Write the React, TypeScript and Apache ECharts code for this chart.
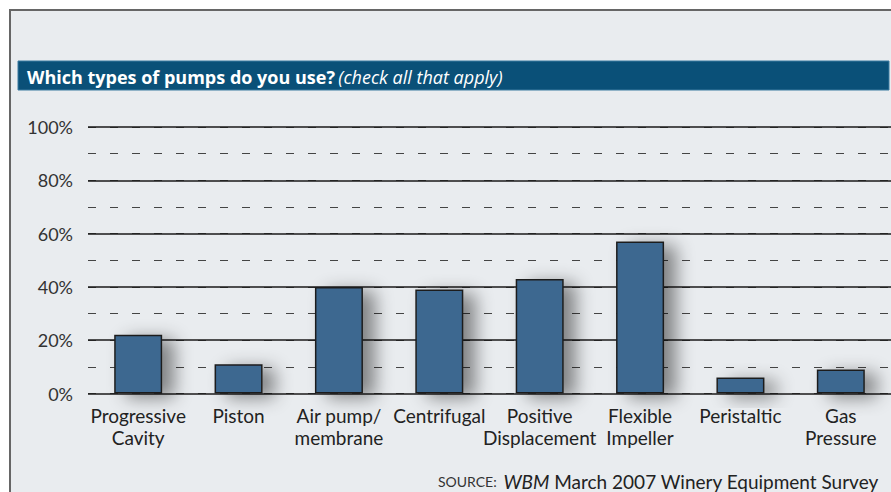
import React, { useEffect, useRef } from "react";
import * as echarts from "echarts";

const categories = [
  "Progressive\nCavity",
  "Piston",
  "Air pump/\nmembrane",
  "Centrifugal",
  "Positive\nDisplacement",
  "Flexible\nImpeller",
  "Peristaltic",
  "Gas\nPressure",
];
const values = [22, 11, 40, 39, 43, 57, 6, 9];
const titleMain = "Which types of pumps do you use?";
const titleNote = "(check all that apply)";
const sourceLabel = "SOURCE:";
const sourcePub = "WBM";
const sourceRest = " March 2007 Winery Equipment Survey";

const FONT = "Lato, 'Open Sans', sans-serif";
const TITLE_FONT = "'Open Sans', Lato, sans-serif";

export default function App() {
  const ref = useRef<HTMLDivElement>(null);
  useEffect(() => {
    const chart = echarts.init(ref.current!, null, { renderer: "svg" });
    chart.setOption({
      animation: false,
      backgroundColor: "#ffffff",
      textStyle: { fontFamily: FONT },
      graphic: [
        {
          type: "rect",
          z: -10,
          shape: { x: 10, y: 10, width: 900, height: 500 },
          style: { fill: "#e9ecef", stroke: "#666666", lineWidth: 2 },
        },
        {
          type: "rect",
          z: -5,
          shape: { x: 18, y: 61, width: 871, height: 29 },
          style: { fill: "#0a5078", stroke: "#3a7aa0", lineWidth: 1 },
        },
        {
          type: "text",
          z: 5,
          x: 27,
          y: 77,
          style: {
            text: "{b|" + titleMain + "} {i|" + titleNote + "}",
            verticalAlign: "middle",
            rich: {
              b: { fontFamily: TITLE_FONT, fontWeight: "bold", fontSize: 18, fill: "#ffffff" },
              i: { fontFamily: TITLE_FONT, fontStyle: "italic", fontSize: 18, fill: "#ffffff" },
            },
          },
        },
        {
          type: "text",
          z: 5,
          x: 438,
          y: 481,
          style: {
            text: "{s|" + sourceLabel + "}  {i|" + sourcePub + "}{n|" + sourceRest + "}",
            verticalAlign: "middle",
            rich: {
              s: { fontFamily: FONT, fontSize: 14, fill: "#333333" },
              i: { fontFamily: FONT, fontStyle: "italic", fontSize: 19, fill: "#222222" },
              n: { fontFamily: FONT, fontSize: 19, fill: "#222222" },
            },
          },
        },
      ],
      grid: { left: 88, right: 0, top: 127, bottom: 98.5, containLabel: false },
      xAxis: {
        type: "category",
        data: categories,
        axisTick: { show: false },
        axisLine: {
          lineStyle: {
            color: "#111111",
            width: 5,
            shadowBlur: 14,
            shadowColor: "rgba(0,0,0,0.25)",
            shadowOffsetY: 10,
          },
        },
        axisLabel: {
          interval: 0,
          margin: 11,
          fontFamily: FONT,
          fontSize: 19,
          lineHeight: 22,
          color: "#222222",
        },
        z: 4,
      },
      yAxis: [
        {
          type: "value",
          min: 0,
          max: 100,
          interval: 20,
          z: 2,
          axisLine: { show: false },
          axisTick: { show: false },
          axisLabel: {
            formatter: "{value}%",
            margin: 15,
            fontFamily: FONT,
            fontSize: 18,
            color: "#333333",
          },
          splitLine: { lineStyle: { color: "#1a1a1a", width: 1.5 } },
        },
        {
          type: "value",
          min: 0,
          max: 100,
          interval: 10,
          z: 1,
          position: "left",
          axisLine: { show: false },
          axisTick: { show: false },
          axisLabel: { show: false },
          splitLine: {
            lineStyle: { color: "#444444", width: 1, type: [8, 14] },
          },
        },
      ],
      series: [
        {
          type: "bar",
          data: values,
          yAxisIndex: 0,
          barWidth: 48,
          z: 3,
          itemStyle: {
            color: "#3c6790",
            borderColor: "#1e1e1e",
            borderWidth: 1.5,
            shadowBlur: 18,
            shadowColor: "rgba(0,0,0,0.45)",
            shadowOffsetX: 12,
            shadowOffsetY: 4,
          },
        },
      ],
    });
    return () => chart.dispose();
  }, []);
  return (
    <div
      style={{ position: "absolute", left: 0, top: 0, width: 891, height: 492 }}
      ref={ref}
    />
  );
}
